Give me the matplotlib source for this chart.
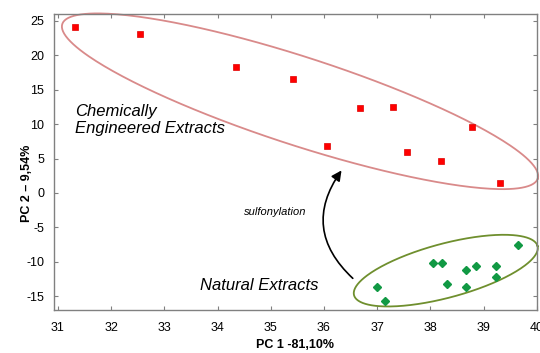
import numpy as np
import matplotlib
matplotlib.use("Agg")
from matplotlib import pyplot as plt
from matplotlib.patches import FancyArrowPatch

plt.rcParams['font.family'] = ['Liberation Sans', 'DejaVu Sans']
plt.rcParams['axes.unicode_minus'] = False

# PCA scores
chem_pc1 = [31.32, 32.55, 34.34, 35.41, 36.67, 37.29, 36.06, 37.57, 38.20, 38.79, 39.31]
chem_pc2 = [24.1, 23.1, 18.2, 16.5, 12.3, 12.5, 6.8, 5.9, 4.7, 9.6, 1.5]
nat_pc1 = [39.65, 38.05, 38.22, 38.67, 38.85, 39.23, 39.23, 38.32, 38.67, 37.00, 37.14]
nat_pc2 = [-7.5, -10.2, -10.2, -11.2, -10.6, -10.6, -12.2, -13.2, -13.6, -13.6, -15.7]

xticks = list(range(31, 41))
yticks = [-15, -10, -5, 0, 5, 10, 15, 20, 25]

W, H, DPI = 5.4, 3.53, 100
fig = plt.figure(figsize=(W, H), dpi=DPI)
ax = fig.add_axes([0.1, 0.122, 0.894, 0.838])
xlim = (30.925, 40.0)
ylim = (-16.96, 25.94)
ax.set_xlim(*xlim)
ax.set_ylim(*ylim)

# pixels per data unit, used to draw the group ellipses in screen proportions
sx = W * DPI * 0.894 / (xlim[1] - xlim[0])
sy = H * DPI * 0.838 / (ylim[1] - ylim[0])


def ellipse(cx, cy, a, b, ang, color):
    t = np.linspace(0, 2 * np.pi, 300)
    th = np.radians(ang)
    px = a * np.cos(t) * np.cos(th) - b * np.sin(t) * np.sin(th)
    py = a * np.cos(t) * np.sin(th) + b * np.sin(t) * np.cos(th)
    ax.plot(cx + px / sx, cy + py / sy, color=color, lw=1.3, clip_on=False)


ellipse(35.55, 13.3, 250, 44, -18, '#d98a8a')
ellipse(38.29, -11.26, 95, 27, 15, '#6f8f2e')

ax.plot(chem_pc1, chem_pc2, 's', color='#ff0000', ms=3.8, mec='#e00000', mew=0.5)
ax.plot(nat_pc1, nat_pc2, 'D', color='#119944', ms=3.6, mec='#119944')

ax.text(31.32, 10.6, "Chemically\nEngineered Extracts", fontsize=12, style='italic',
        va='center', ha='left', linespacing=1.15)
ax.text(34.79, -13.37, "Natural Extracts", fontsize=12, style='italic', ha='center', va='center')
ax.text(35.08, -2.72, "sulfonylation", fontsize=8, style='italic', ha='center', va='center')

arrow = FancyArrowPatch((36.58, -12.65), (36.36, 3.6), connectionstyle="arc3,rad=-0.45",
                        arrowstyle='-|>,head_length=6,head_width=3', color='black', lw=1.2)
ax.add_patch(arrow)

ax.set_xticks(xticks)
ax.set_yticks(yticks)
ax.tick_params(direction='in', length=3, width=0.8, color='#808080', labelsize=9,
               top=True, right=True)
ax.tick_params(axis='x', pad=9)
ax.tick_params(axis='y', pad=7)
for s in ax.spines.values():
    s.set_color('#808080')
    s.set_linewidth(1.0)

ax.set_xlabel("PC 1 -81,10%", fontsize=9, fontweight='bold', labelpad=3)
ax.set_ylabel("PC 2 \u2013 9,54%", fontsize=9, fontweight='bold')
ax.yaxis.set_label_coords(-0.0435, 0.429)

fig.savefig('out.png', dpi=DPI)
